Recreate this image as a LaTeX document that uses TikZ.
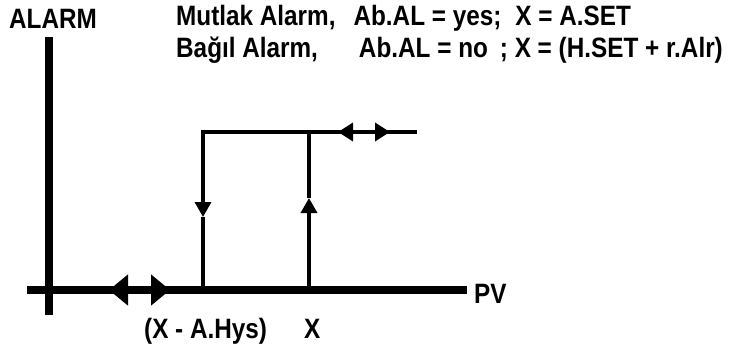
\documentclass[tikz,border=0pt]{standalone}
\usepackage{fontspec}
\setmainfont[FakeStretch=0.868]{Liberation Sans}
\usetikzlibrary{arrows.meta}
\tikzset{
  axisline/.style={line width=8pt},
  curveline/.style={line width=3.4pt},
  lbl/.style={inner sep=0pt, anchor=base west, font=\fontsize{28}{33}\selectfont\bfseries},
  bigtip/.tip={Triangle[length=19pt,width=30pt]},
  midtip/.tip={Triangle[length=15pt,width=16pt]},
  toptip/.tip={Triangle[length=15pt,width=18pt]},
}
\begin{document}
\begin{tikzpicture}[x=1pt,y=-1pt]
\useasboundingbox (0,0) rectangle (736,349);
% coordinates
\coordinate (yt) at (49,37);
\coordinate (yb) at (49,315);
\coordinate (xl) at (27,290);
\coordinate (xr) at (467,290);
\coordinate (A) at (203,290);
\coordinate (B) at (309,290);
\coordinate (C) at (203,132);
\coordinate (D) at (309,132);
\coordinate (E) at (417,132);
\coordinate (dtip) at (203,217);
\coordinate (utip) at (309,198);
\coordinate (t1) at (338,132);
\coordinate (t2) at (390,132);
\coordinate (h1) at (109,290);
\coordinate (h2) at (170,290);
% axes
\draw[axisline] (yt) -- (yb);
\draw[axisline] (xl) -- (xr);
\draw[axisline,{bigtip}-{bigtip}] (h1) -- (h2);
% hysteresis curve
\draw[curveline,-{midtip}] (E) -- (C) -- (dtip);
\draw[curveline] (dtip) -- (A);
\draw[curveline,-{midtip}] (B) -- (utip);
\draw[curveline] (utip) -- (D);
\draw[curveline,{toptip}-{toptip}] (t1) -- (t2);
% labels
\node[lbl] (alarm) at (9,28) {ALARM};
\node[lbl] (l1) at (176,25) {Mutlak Alarm,\hspace{18pt}Ab.AL = yes;\hspace{14pt}X = A.SET};
\node[lbl] (l2) at (176,57) {Bağıl Alarm,\hspace{41pt}Ab.AL = no\hspace{12pt}; X = (H.SET + r.Alr)};
\node[lbl] (hys) at (144,338) {(X - A.Hys)};
\node[lbl] (xlab) at (304,338) {X};
\node[lbl] (pv) at (474,303) {PV};
\end{tikzpicture}
\end{document}
